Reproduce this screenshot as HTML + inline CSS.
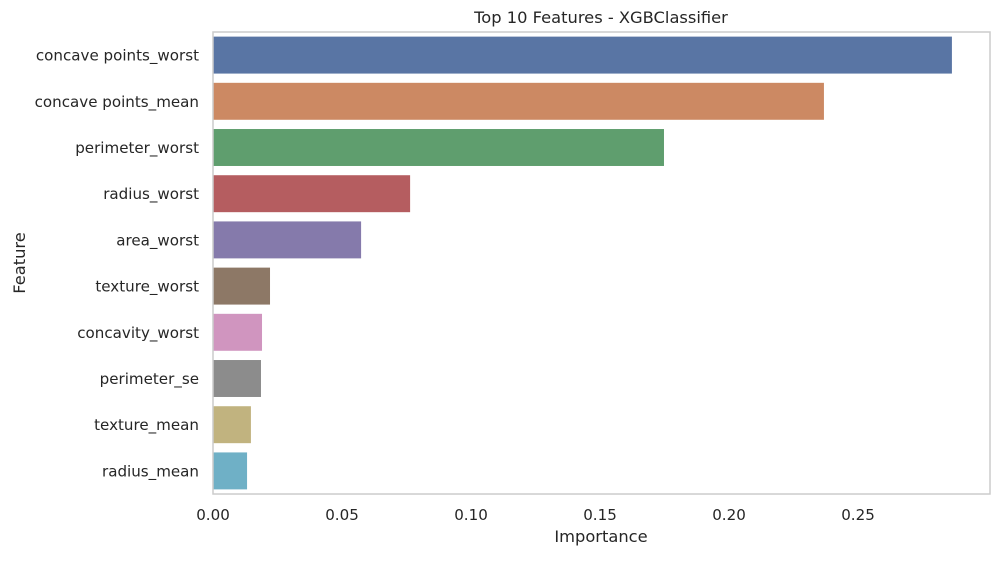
<!DOCTYPE html>
<html><head><meta charset="utf-8"><style>
body{margin:0;background:#fff;font-family:"Liberation Sans","DejaVu Sans",sans-serif;}
svg text{fill:#262626;font-family:"DejaVu Sans","Liberation Sans",sans-serif;}
</style></head><body>
<svg id="chart" width="998" height="556" xmlns="http://www.w3.org/2000/svg">
<text x="601" y="23" text-anchor="middle" font-size="16.3">Top 10 Features - XGBClassifier</text>
<text x="601" y="542" text-anchor="middle" font-size="16.3">Importance</text>
<text x="0" y="0" transform="translate(25,263) rotate(-90)" text-anchor="middle" font-size="16.3">Feature</text>
<g id="bars"></g><g id="ticks"></g>
<rect x="213" y="32" width="777" height="462" fill="none" stroke="#cccccc" stroke-width="1.5"/>
</svg>
<script>
const categories=["concave points_worst","concave points_mean","perimeter_worst","radius_worst","area_worst","texture_worst","concavity_worst","perimeter_se","texture_mean","radius_mean"];
const values=[0.2864,0.2368,0.1748,0.0764,0.0574,0.0221,0.0190,0.0186,0.0147,0.0132];
const colors=["#5975a4","#cc8963","#5f9e6e","#b55d60","#857aab","#8d7866","#d095bf","#8c8c8c","#c1b37f","#6fb0c6"];
const xTicks=[0,0.05,0.10,0.15,0.20,0.25];
const xTickLabels=["0.00","0.05","0.10","0.15","0.20","0.25"];
const L=213,T=32,H=462;
const xs=v=>L+v*2580;
const band=H/categories.length;
const ys=i=>T+band*(i+0.5);
const NS="http://www.w3.org/2000/svg";
const bars=document.getElementById('bars'),ticks=document.getElementById('ticks');
categories.forEach((c,i)=>{
 const r=document.createElementNS(NS,'rect');
 r.setAttribute('x',xs(0));r.setAttribute('y',ys(i)-band*0.4);
 r.setAttribute('width',xs(values[i])-xs(0));r.setAttribute('height',band*0.8);
 r.setAttribute('fill',colors[i]);
 
 
 bars.appendChild(r);
 const t=document.createElementNS(NS,'text');
 t.setAttribute('x',L-14);t.setAttribute('y',ys(i)+5.5);t.setAttribute('text-anchor','end');t.setAttribute('font-size','15.1');
 t.textContent=c;
 
 
 ticks.appendChild(t);
});
xTicks.forEach((v,i)=>{
 const t=document.createElementNS(NS,'text');
 t.setAttribute('x',xs(v));t.setAttribute('y',520);t.setAttribute('text-anchor','middle');t.setAttribute('font-size','15.1');
 t.textContent=xTickLabels[i];
 
 
 ticks.appendChild(t);
});
</script>
</body></html>
